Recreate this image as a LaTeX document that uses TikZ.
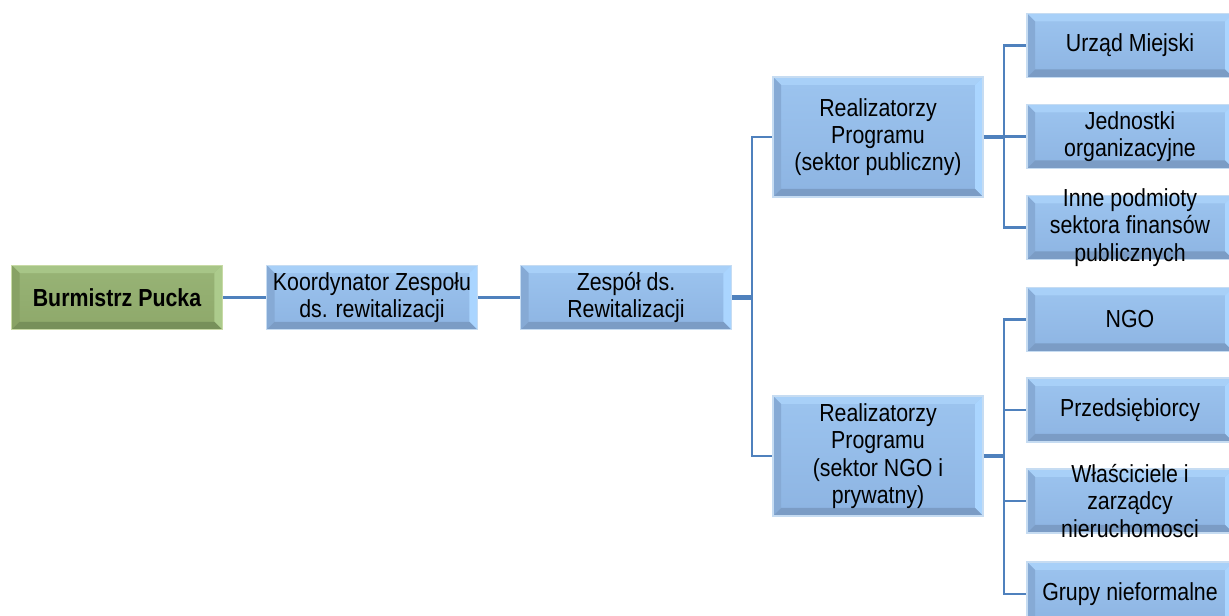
\documentclass[tikz,border=0pt]{standalone}
\usepackage{fontspec}
\setmainfont{Liberation Sans}[FakeStretch=0.865]
\definecolor{bface}{HTML}{8DB4E2}
\definecolor{bhi}{HTML}{9CC4EF}
\definecolor{btop}{HTML}{A8D0F8}
\definecolor{bright}{HTML}{AAD5FF}
\definecolor{bleft}{HTML}{86AAD5}
\definecolor{bbot}{HTML}{7B9CC5}
\definecolor{bedge}{HTML}{C6DCF2}
\definecolor{gface}{HTML}{8EA86A}
\definecolor{ghi}{HTML}{98B476}
\definecolor{gtop}{HTML}{A7C587}
\definecolor{gright}{HTML}{ACCB8C}
\definecolor{gleft}{HTML}{88A265}
\definecolor{gbot}{HTML}{77905A}
\definecolor{gedge}{HTML}{C8DAA6}
\definecolor{link}{HTML}{4F81BD}
\tikzset{
  blk/.style={draw=#1edge, line width=0.8pt, inner sep=0pt,
    top color=#1hi, bottom color=#1face,
    path picture={
      \fill[#1top] (path picture bounding box.north west) -- (path picture bounding box.north east)
        -- ([shift={(-6pt,-6pt)}]path picture bounding box.north east)
        -- ([shift={(6pt,-6pt)}]path picture bounding box.north west) -- cycle;
      \fill[#1left] (path picture bounding box.north west) -- (path picture bounding box.south west)
        -- ([shift={(6pt,6pt)}]path picture bounding box.south west)
        -- ([shift={(6pt,-6pt)}]path picture bounding box.north west) -- cycle;
      \fill[#1right] (path picture bounding box.north east) -- (path picture bounding box.south east)
        -- ([shift={(-6pt,6pt)}]path picture bounding box.south east)
        -- ([shift={(-6pt,-6pt)}]path picture bounding box.north east) -- cycle;
      \fill[#1bot] (path picture bounding box.south west) -- (path picture bounding box.south east)
        -- ([shift={(-6pt,6pt)}]path picture bounding box.south east)
        -- ([shift={(6pt,6pt)}]path picture bounding box.south west) -- cycle;
    }},
  wide/.style={minimum width=158pt, minimum height=48.5pt},
  tall/.style={minimum width=157.5pt, minimum height=90pt},
  leaf/.style={minimum width=154.5pt, minimum height=48pt},
  txt/.style={align=center, inner sep=0pt, font=\fontsize{18.5}{20.5}\selectfont},
  lnk/.style={draw=link, line width=2pt},
  stub/.style={draw=link, line width=3.6pt}
}
\begin{document}
\begin{tikzpicture}[x=0.75pt, y=-0.75pt]
  \useasboundingbox (0,0) rectangle (1229,616);
  \clip (0,0) rectangle (1229,616);
  % main row
  \node[blk=g, wide] (burm) at (117,297.5) {};
  \node[blk=b, wide] (koord) at (372,297.5) {};
  \node[blk=b, wide] (zesp) at (626,297.5) {};
  \node[txt] (burm-t) at (burm) {\bfseries Burmistrz Pucka};
  \node[txt] (koord-t) at (koord) {Koordynator Zespołu\\ds. rewitalizacji};
  \node[txt] (zesp-t) at (zesp) {Zespół ds.\\Rewitalizacji};
  % realizatorzy
  \node[blk=b, tall] (rpub) at (878,137) {};
  \node[blk=b, tall] (rngo) at (878,456) {};
  \node[txt] (rpub-t) at (rpub) {Realizatorzy\\Programu\\(sektor publiczny)};
  \node[txt] (rngo-t) at (rngo) {Realizatorzy\\Programu\\(sektor NGO i\\prywatny)};
  % leaves
  \node[blk=b, leaf] (urzad) at (1130,45.5) {};
  \node[blk=b, leaf] (jedn) at (1130,136.5) {};
  \node[blk=b, leaf] (inne) at (1130,227.5) {};
  \node[blk=b, leaf] (ngo) at (1130,319.5) {};
  \node[blk=b, leaf] (przed) at (1130,410) {};
  \node[blk=b, leaf] (wlasc) at (1130,501) {};
  \node[blk=b, leaf] (grupy) at (1130,594) {};
  \node[txt] (urzad-t) at (urzad) {Urząd Miejski};
  \node[txt] (jedn-t) at (jedn) {Jednostki\\organizacyjne};
  \node[txt] (inne-t) at (inne) {Inne podmioty\\sektora finansów\\publicznych};
  \node[txt] (ngo-t) at (ngo) {NGO};
  \node[txt] (przed-t) at (przed) {Przedsiębiorcy};
  \node[txt] (wlasc-t) at (wlasc) {Właściciele i\\zarządcy\\nieruchomosci};
  \node[txt] (grupy-t) at (grupy) {Grupy nieformalne};
  % connectors
  \coordinate (j1) at (752,297.5);
  \coordinate (j2) at (1004,137);
  \coordinate (j3) at (1004,456);
  \draw[lnk] (burm) -- (koord);
  \draw[lnk] (koord) -- (zesp);
  \draw[stub] (zesp) -- (j1);
  \draw[lnk] (j1) |- (rpub.west);
  \draw[lnk] (j1) |- (rngo.west);
  \draw[stub] (rpub) -- (j2);
  \draw[lnk] (j2) |- (urzad.west);
  \draw[lnk] (j2) |- (jedn.west);
  \draw[lnk] (j2) |- (inne.west);
  \draw[stub] (rngo) -- (j3);
  \draw[lnk] (j3) |- (ngo.west);
  \draw[lnk] (j3) |- (przed.west);
  \draw[lnk] (j3) |- (wlasc.west);
  \draw[lnk] (j3) |- (grupy.west);
\end{tikzpicture}
\end{document}
